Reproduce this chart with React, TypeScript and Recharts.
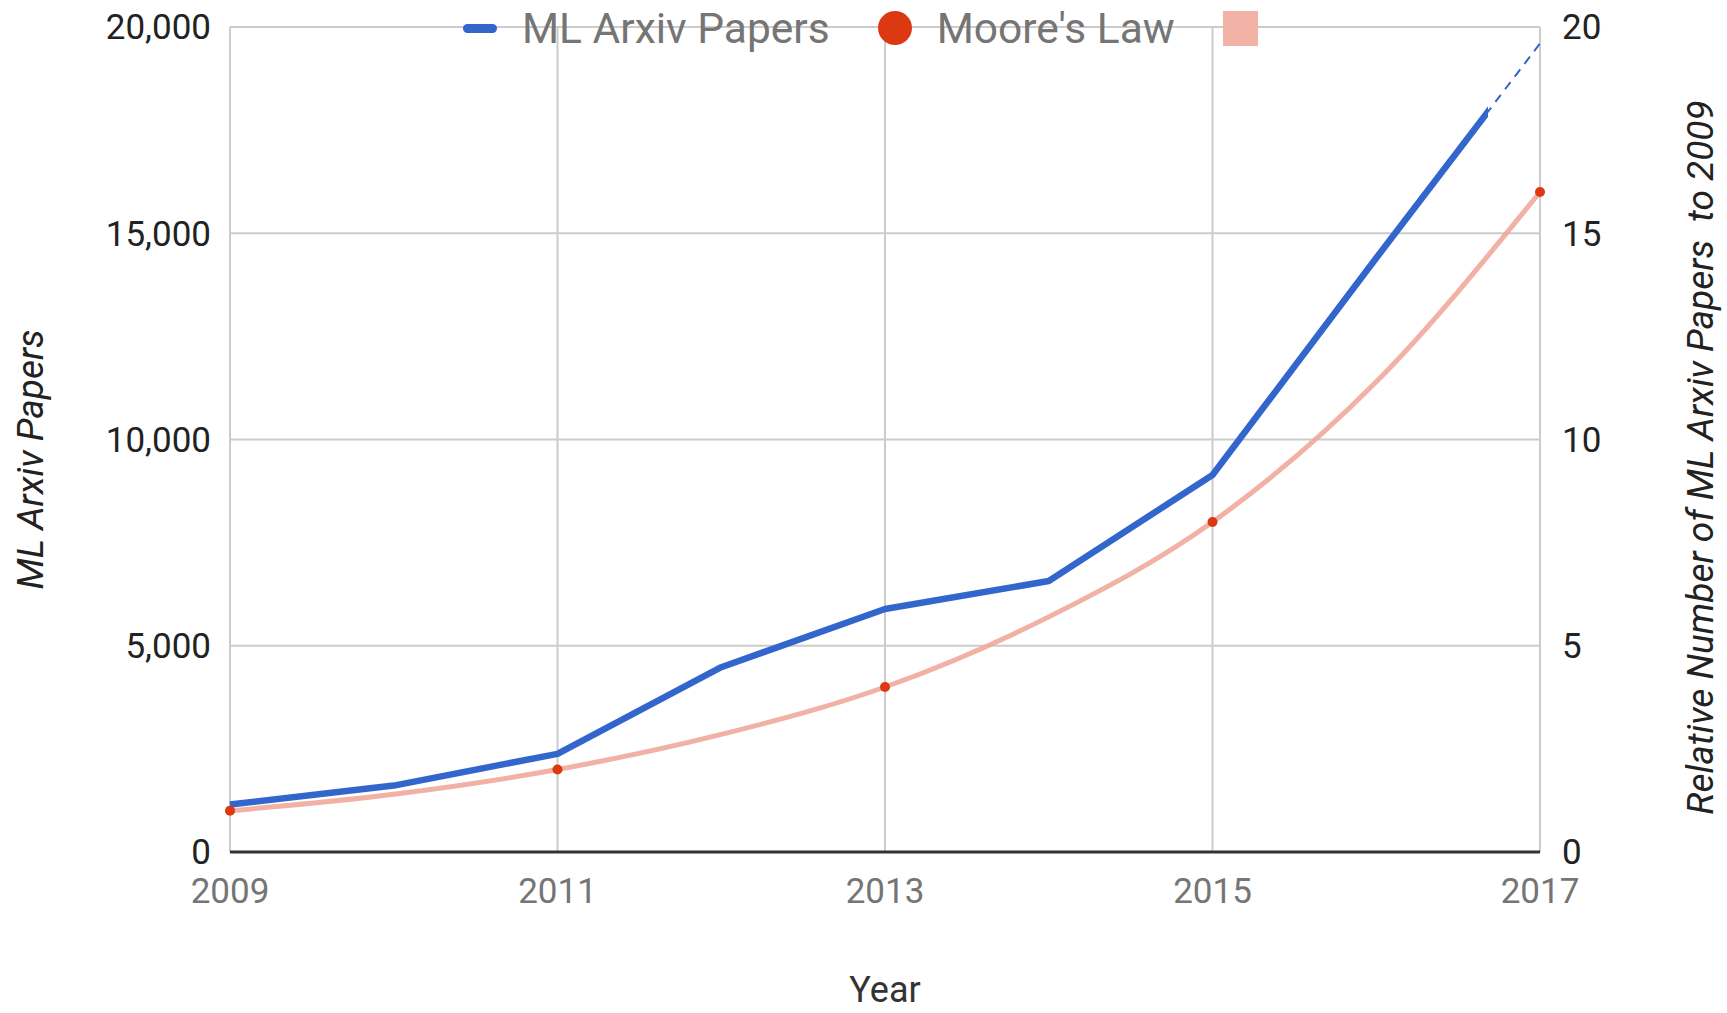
import React from 'react';
import { LineChart, Line, XAxis, YAxis, CartesianGrid, Label } from 'recharts';

// yearly counts of ML papers on arXiv, 2017 is a projection
const years = [2009, 2010, 2011, 2012, 2013, 2014, 2015, 2016, 2017];
const mlPapers = [1150, 1610, 2380, 4480, 5890, 6570, 9140, 14400, 19600];
// doubling every two years, relative to 2009
const mooreTrend = [1, 1.4, 2, 2.85, 4, 5.7, 8, 11.4, 16];
const moorePoints = [1, null, 2, null, 4, null, 8, null, 16];

const xTicks = [2009, 2011, 2013, 2015, 2017];
const leftTicks = [0, 5000, 10000, 15000, 20000];
const rightTicks = [0, 5, 10, 15, 20];

const data = years.map((year, i) => ({
  year,
  papers: mlPapers[i],
  trend: mooreTrend[i],
  moore: moorePoints[i],
}));

const BLUE = '#3366cc';
const RED = '#dc3912';
const PINK = '#efa394';
const FONT = 'Roboto, sans-serif';

const legendItems = [
  { name: 'ML Arxiv Papers', icon: 'line', color: BLUE },
  { name: "Moore's Law", icon: 'circle', color: RED },
  { name: '', icon: 'square', color: '#f3b2a6' },
];

const LegendIcon = ({ icon, color }: { icon: string; color: string }) => {
  if (icon === 'line') {
    return <span style={{ display: 'inline-block', width: 34, height: 9, borderRadius: 5, background: color }} />;
  }
  if (icon === 'circle') {
    return <span style={{ display: 'inline-block', width: 34, height: 34, borderRadius: 17, background: color }} />;
  }
  return <span style={{ display: 'inline-block', width: 35, height: 35, background: color }} />;
};

const ChartLegend = () => (
  <div
    style={{
      position: 'absolute',
      left: 463,
      top: 6,
      height: 44,
      display: 'flex',
      alignItems: 'center',
      fontFamily: FONT,
      fontSize: 42.5,
      color: '#757575',
      whiteSpace: 'nowrap',
    }}
  >
    {legendItems.map((item) => (
      <div key={item.icon} style={{ display: 'flex', alignItems: 'center', marginRight: 48 }}>
        <LegendIcon icon={item.icon} color={item.color} />
        {item.name && <span style={{ marginLeft: 25 }}>{item.name}</span>}
      </div>
    ))}
  </div>
);

export default function App() {
  return (
    <div style={{ position: 'absolute', left: 0, top: 0, width: 1727, height: 1013, background: '#fff', fontFamily: FONT }}>
      <LineChart width={1727} height={1013} data={data} margin={{ top: 27, right: 0, bottom: 0, left: 0 }}>
        <defs>
          <linearGradient id="mlSolid" x1="0" y1="0" x2="1" y2="0">
            <stop offset="0.96" stopColor={BLUE} stopOpacity={1} />
            <stop offset="0.96" stopColor={BLUE} stopOpacity={0} />
          </linearGradient>
        </defs>
        <CartesianGrid yAxisId="left" stroke="#cccccc" strokeWidth={2} />
        <XAxis
          dataKey="year"
          type="number"
          domain={[2009, 2017]}
          ticks={xTicks}
          height={161}
          tickLine={false}
          tickMargin={20}
          axisLine={{ stroke: '#333', strokeWidth: 3 }}
          tick={{ fill: '#757575', fontSize: 35, fontFamily: FONT }}
        >
          <Label value="Year" position="center" dy={57} style={{ fill: '#333', fontSize: 36, fontFamily: FONT }} />
        </XAxis>
        <YAxis
          yAxisId="left"
          width={230}
          domain={[0, 20000]}
          ticks={leftTicks}
          tickFormatter={(v: number) => v.toLocaleString('en-US')}
          axisLine={false}
          tickLine={false}
          tickMargin={13}
          tick={{ fill: '#222', fontSize: 35, fontFamily: FONT }}
        >
          <Label
            value="ML Arxiv Papers"
            angle={-90}
            position="center"
            dx={-85}
            dy={20}
            style={{ fill: '#222', fontSize: 37, fontStyle: 'italic', fontFamily: FONT }}
          />
        </YAxis>
        <YAxis
          yAxisId="right"
          orientation="right"
          width={187}
          domain={[0, 20]}
          ticks={rightTicks}
          axisLine={false}
          tickLine={false}
          tickMargin={16}
          tick={{ fill: '#222', fontSize: 35, fontFamily: FONT }}
        >
          <Label
            value={'Relative Number of ML Arxiv Papers\u00a0 to 2009'}
            angle={-90}
            position="center"
            dx={66}
            dy={18}
            style={{ fill: '#222', fontSize: 37, fontStyle: 'italic', fontFamily: FONT }}
          />
        </YAxis>
        <Line
          yAxisId="right"
          dataKey="trend"
          type="monotone"
          stroke={PINK}
          strokeOpacity={0.85}
          strokeWidth={5}
          dot={false}
          isAnimationActive={false}
        />
        <Line
          yAxisId="right"
          dataKey="moore"
          stroke="none"
          dot={{ r: 5, fill: RED, stroke: 'none' }}
          isAnimationActive={false}
        />
        <Line
          yAxisId="left"
          dataKey="papers"
          type="linear"
          stroke={BLUE}
          strokeWidth={2}
          strokeDasharray="9 7"
          dot={false}
          isAnimationActive={false}
        />
        <Line
          yAxisId="left"
          dataKey="papers"
          type="linear"
          stroke="url(#mlSolid)"
          strokeWidth={6.5}
          strokeLinejoin="round"
          dot={false}
          isAnimationActive={false}
        />
      </LineChart>
      <ChartLegend />
    </div>
  );
}
